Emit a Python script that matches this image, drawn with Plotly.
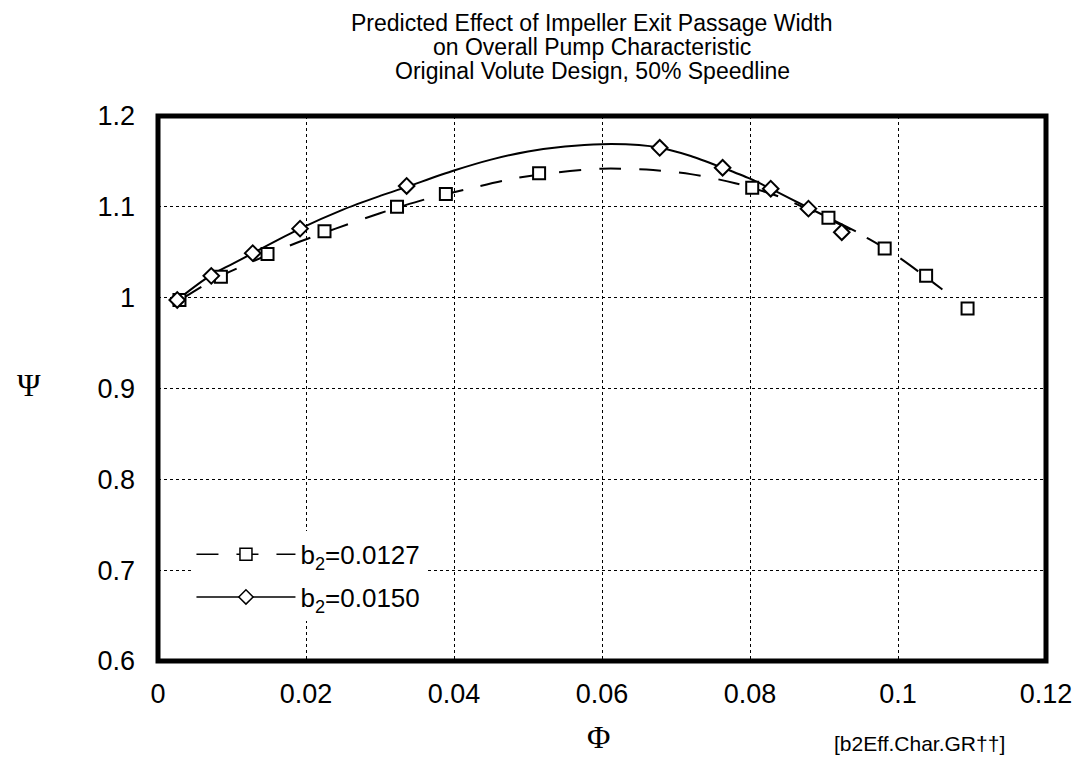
import plotly.graph_objects as go

phi_b127 = [0.0029, 0.0085, 0.0148, 0.0225, 0.0323, 0.0389, 0.0515, 0.0803, 0.0906, 0.0982, 0.1038, 0.1094]
psi_b127 = [0.9975, 1.023, 1.048, 1.073, 1.100, 1.114, 1.137, 1.121, 1.088, 1.054, 1.024, 0.988]

phi_b150 = [0.0026, 0.0072, 0.0128, 0.0192, 0.0336, 0.0678, 0.0763, 0.0828, 0.0879, 0.0924]
psi_b150 = [0.9975, 1.024, 1.049, 1.076, 1.123, 1.165, 1.143, 1.120, 1.098, 1.072]

# Fitted curves
curve_phi_b127 = [0.0033, 0.008, 0.012, 0.018, 0.024, 0.030, 0.036, 0.042, 0.048, 0.054,
                  0.060, 0.066, 0.072, 0.078, 0.084, 0.090, 0.096, 0.100, 0.106]
curve_psi_b127 = [0.999, 1.022, 1.037, 1.058, 1.076, 1.093, 1.108, 1.120, 1.131, 1.138,
                  1.142, 1.141, 1.136, 1.126, 1.111, 1.089, 1.065, 1.045, 1.009]

curve_phi_b150 = [0.0026, 0.007, 0.010, 0.0128, 0.0192, 0.025, 0.030, 0.0336, 0.040, 0.045,
                  0.050, 0.055, 0.060, 0.065, 0.0678, 0.072, 0.0763, 0.080, 0.0828, 0.0879, 0.0943]
curve_psi_b150 = [0.9975, 1.024, 1.037, 1.049, 1.076, 1.097, 1.112, 1.122, 1.140, 1.152,
                  1.161, 1.1665, 1.169, 1.168, 1.165, 1.156, 1.143, 1.131, 1.120, 1.099, 1.073]

x_ticks = [0, 0.02, 0.04, 0.06, 0.08, 0.1, 0.12]
y_ticks = [0.6, 0.7, 0.8, 0.9, 1.0, 1.1, 1.2]

label_b127 = "b<sub>2</sub>=0.0127"
label_b150 = "b<sub>2</sub>=0.0150"

title_lines = ["Predicted Effect of Impeller Exit Passage Width",
               "on Overall Pump Characteristic",
               "Original Volute Design, 50% Speedline"]

FONT = "Liberation Sans, Arial, Helvetica, sans-serif"
SERIF = "Liberation Serif, Times New Roman, serif"

fig = go.Figure()

# curves
fig.add_trace(go.Scatter(x=curve_phi_b127, y=curve_psi_b127, mode="lines",
                         line=dict(color="black", width=2, dash="22px,18px", shape="spline", smoothing=0.8),
                         showlegend=False, hoverinfo="skip"))
fig.add_trace(go.Scatter(x=curve_phi_b150, y=curve_psi_b150, mode="lines",
                         line=dict(color="black", width=2, shape="spline", smoothing=0.8),
                         showlegend=False, hoverinfo="skip"))
# markers
fig.add_trace(go.Scatter(x=phi_b127, y=psi_b127, mode="markers",
                         marker=dict(symbol="square", size=12, color="white",
                                     line=dict(color="black", width=2)),
                         showlegend=False))
fig.add_trace(go.Scatter(x=phi_b150, y=psi_b150, mode="markers",
                         marker=dict(symbol="diamond", size=12, color="white",
                                     line=dict(color="black", width=2)),
                         showlegend=False))
# legend proxies
fig.add_trace(go.Scatter(x=[None], y=[None], mode="lines+markers", name=label_b127,
                         legendgroup="a",
                         line=dict(color="black", width=1.5, dash="22px,18px"),
                         marker=dict(symbol="square", size=12, color="white",
                                     line=dict(color="black", width=1.5))))
fig.add_trace(go.Scatter(x=[None], y=[None], mode="lines+markers", name=label_b150,
                         legendgroup="b",
                         line=dict(color="black", width=1.5),
                         marker=dict(symbol="diamond", size=11, color="white",
                                     line=dict(color="black", width=1.5))))

annotations = []
for i, t in enumerate(title_lines):
    annotations.append(dict(text=t, xref="paper", yref="paper",
                            x=(592 - 157.5) / 889, y=(661.5 - (22 + 24 * i)) / 546,
                            showarrow=False, font=dict(family=FONT, size=23),
                            xanchor="center", yanchor="middle"))
annotations += [
    dict(text="Ψ", xref="paper", yref="paper", x=(28 - 157.5) / 889, y=(661.5 - 385) / 546,
         showarrow=False, font=dict(family=SERIF, size=32), xanchor="center", yanchor="middle"),
    dict(text="Φ", xref="paper", yref="paper", x=(598 - 157.5) / 889, y=(661.5 - 738) / 546,
         showarrow=False, font=dict(family=SERIF, size=32), xanchor="center", yanchor="middle"),
    dict(text="[b2Eff.Char.GR††]", xref="paper", yref="paper", x=(920 - 157.5) / 889, y=(661.5 - 744) / 546,
         showarrow=False, font=dict(family=FONT, size=21), xanchor="center", yanchor="middle"),
]

fig.update_layout(
    width=1092, height=767, autosize=False,
    margin=dict(l=157.5, r=45.5, t=115.5, b=105.5),
    paper_bgcolor="white", plot_bgcolor="white",
    font=dict(family=FONT, color="black"),
    xaxis=dict(range=[0, 0.12], tickvals=x_ticks, showgrid=True,
               gridcolor="black", griddash="dot", gridwidth=1,
               zeroline=False, showline=False, ticks="",
               tickfont=dict(family=FONT, size=27), ticklabelstandoff=14),
    yaxis=dict(range=[0.6, 1.2], tickvals=y_ticks, showgrid=True,
               gridcolor="black", griddash="dot", gridwidth=1,
               zeroline=False, showline=False, ticks="",
               tickfont=dict(family=FONT, size=27), ticklabelstandoff=22),
    legend=dict(x=(191 - 157.5) / 889, y=(661.5 - 531) / 546, xanchor="left", yanchor="top",
                bgcolor="white", borderwidth=0, itemwidth=99, tracegroupgap=6,
                font=dict(family=FONT, size=26, color="black")),
    shapes=[dict(type="rect", xref="paper", yref="paper", x0=0, x1=1, y0=0, y1=1,
                 line=dict(color="black", width=5), layer="above")],
    annotations=annotations,
)

fig.write_html("out.html")
